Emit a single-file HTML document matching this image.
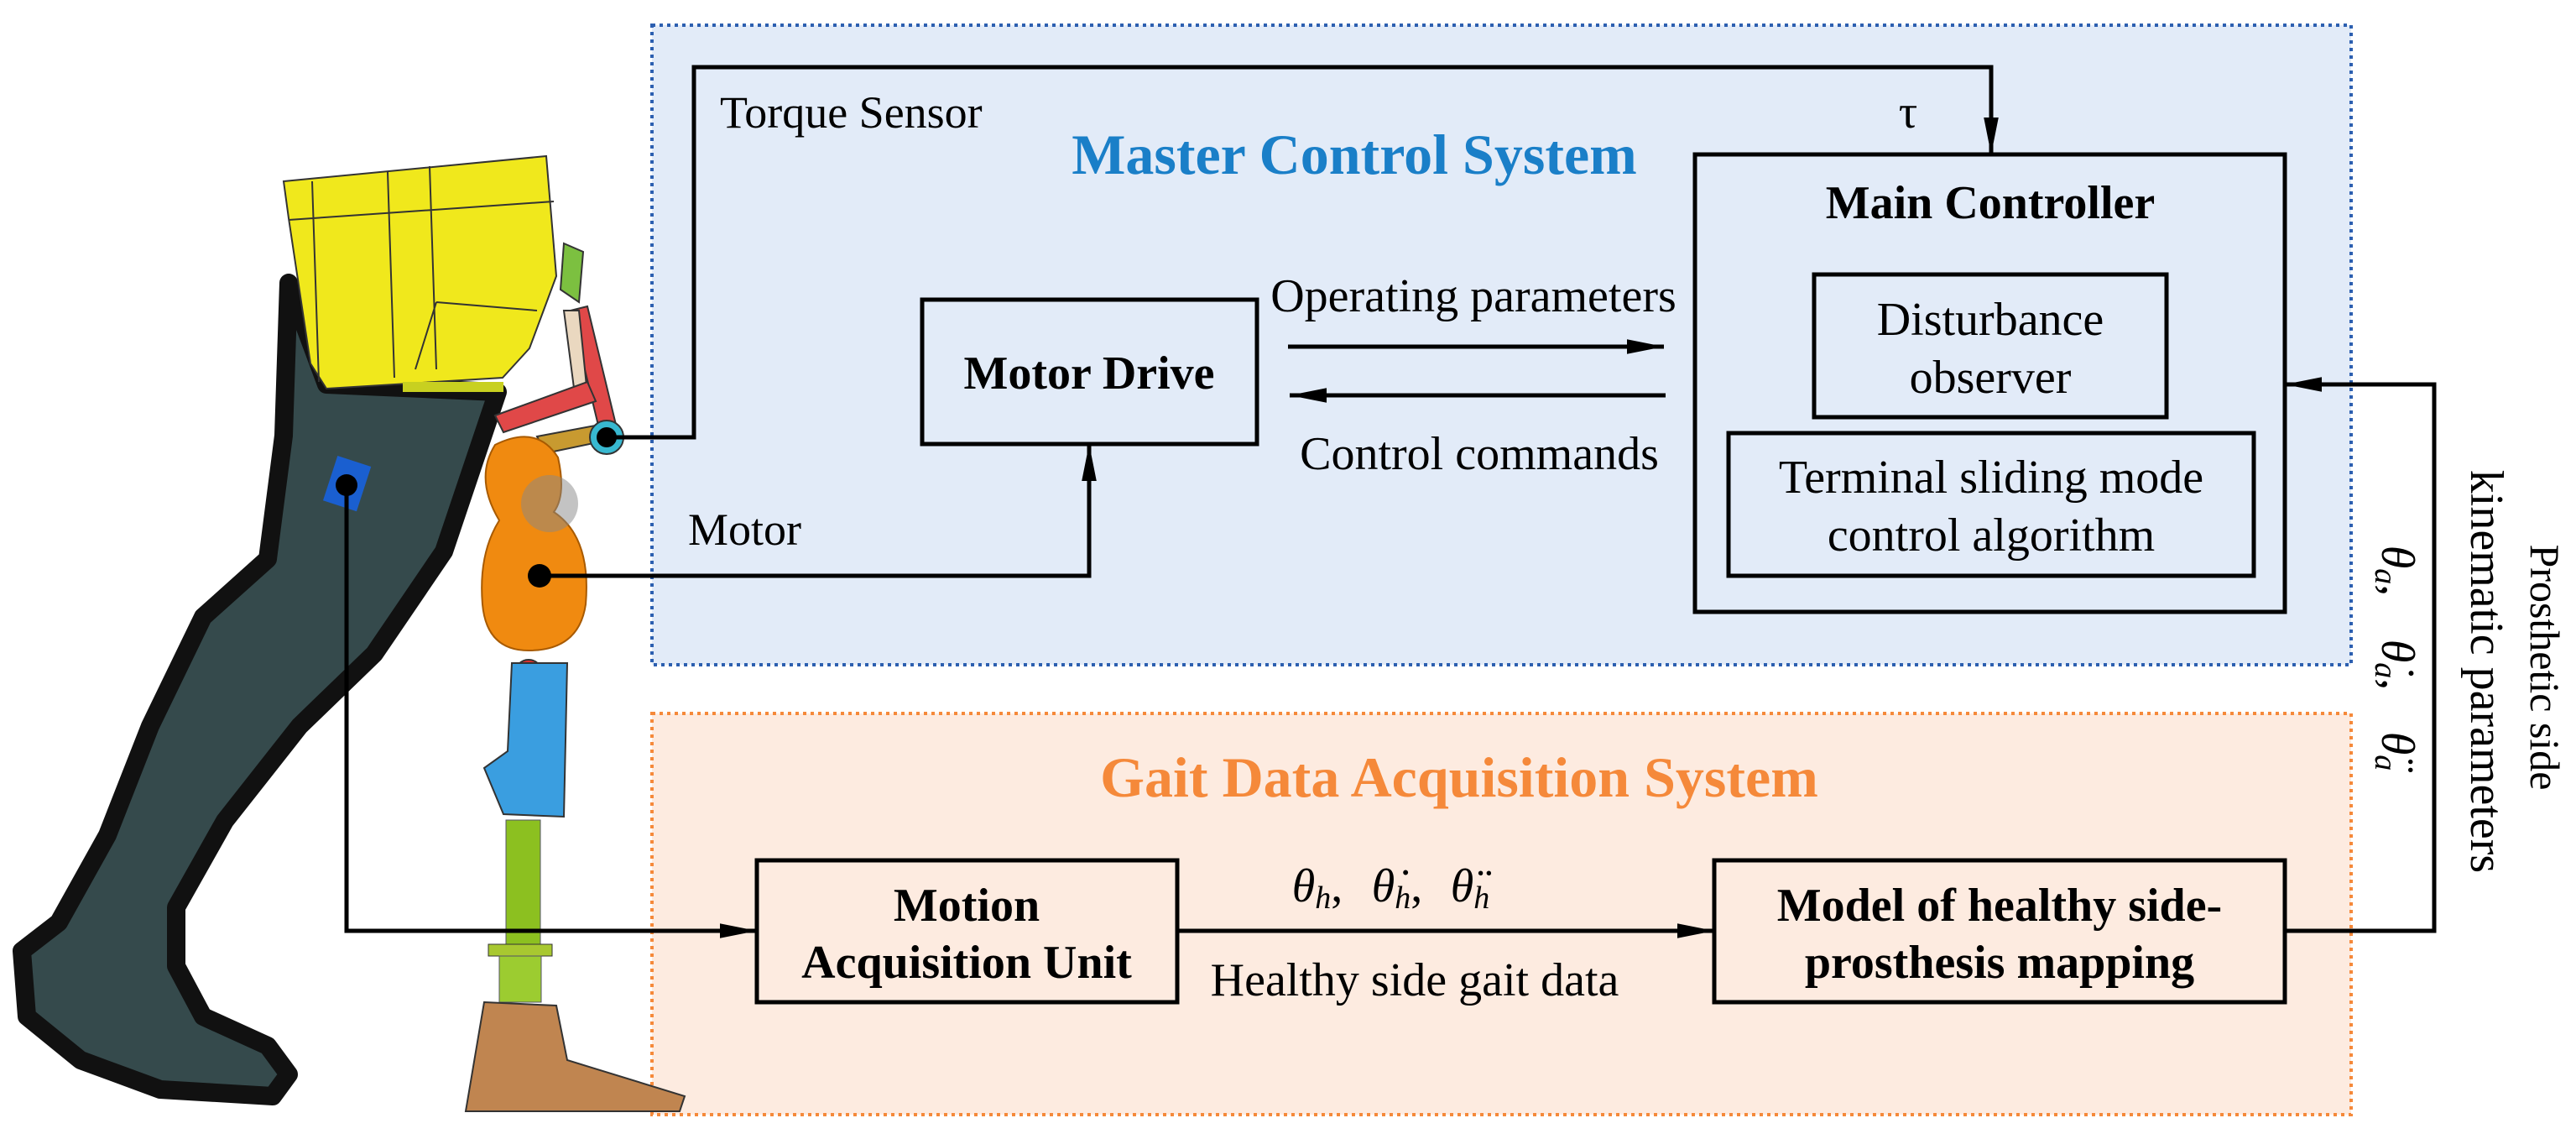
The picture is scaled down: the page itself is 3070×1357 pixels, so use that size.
<!DOCTYPE html>
<html><head><meta charset="utf-8"><style>
html,body{margin:0;padding:0;background:#fff}
svg{display:block}
text{font-family:"Liberation Serif",serif}
</style></head><body>
<svg width="3070" height="1357" viewBox="0 0 3070 1357" xmlns="http://www.w3.org/2000/svg">
<defs>
<marker id="a2" viewBox="0 0 40 20" refX="40" refY="10" markerWidth="44" markerHeight="22" markerUnits="userSpaceOnUse" orient="auto">
<path d="M0,2 L40,10 L0,18 z" fill="#000"/></marker>
</defs>
<rect x="777" y="30" width="2025" height="762" fill="#e2ebf8" stroke="#2c5fb0" stroke-width="4" stroke-dasharray="4,5"/>
<rect x="777" y="850" width="2025" height="478" fill="#fdebe0" stroke="#f5893a" stroke-width="4" stroke-dasharray="4,5"/>

<!-- leg -->
<path d="M344,337 L389,458 L593,467 L529,657 L446,779 L357,865 L268,978 L210,1081 L210,1151 L242,1211 L319,1246 L344,1280 L325,1306 L191,1298 L96,1263 L32,1211 L26,1133 L70,1099 L128,995 L179,865 L242,735 L319,666 L338,519 Z" fill="#354a4c" stroke="#111" stroke-width="22" stroke-linejoin="round"/>
<path d="M338,216 L651,186 L663,329 L631,415 L599,450 L389,463 L370,433 L344,260 Z" fill="#f0e81c" stroke="#333" stroke-width="2"/>
<path d="M344,262 L660,240 M372,216 L380,455 M462,205 L470,450 M512,198 L520,440 M520,360 L640,370 M520,360 L495,440" stroke="#333" stroke-width="2" fill="none"/>
<rect x="480" y="455" width="120" height="12" fill="#c8d020"/>
<path d="M672,290 L695,300 L690,360 L668,345 Z" fill="#7cc040" stroke="#333" stroke-width="2"/>
<path d="M680,370 L700,365 L735,510 L715,515 Z" fill="#e04848" stroke="#333" stroke-width="2"/>
<path d="M672,370 L690,370 L700,470 L685,470 Z" fill="#ead8c0" stroke="#333" stroke-width="2"/>
<path d="M590,495 L700,455 L710,478 L600,515 Z" fill="#e04848" stroke="#333" stroke-width="2"/>
<path d="M640,520 L720,505 L722,525 L650,540 Z" fill="#c89a30" stroke="#333" stroke-width="2"/>
<circle cx="723" cy="521" r="20" fill="#38b8d0" stroke="#333" stroke-width="2"/>
<path d="M590,530 Q640,505 665,545 Q675,590 660,610 Q705,640 698,720 Q690,775 630,775 Q580,775 575,720 Q570,660 595,620 Q565,570 590,530 Z" fill="#f08a10" stroke="#a85a00" stroke-width="2"/>
<circle cx="655" cy="600" r="34" fill="#888" opacity=".5"/>
<circle cx="630" cy="802" r="16" fill="#e03030" stroke="#333" stroke-width="2"/>
<path d="M610,790 L676,790 L672,973 L600,970 L577,915 L605,895 Z" fill="#3a9ee0" stroke="#333" stroke-width="2"/>
<rect x="603" y="977" width="41" height="156" fill="#8cc020" stroke="#556" stroke-width="1"/>
<rect x="582" y="1125" width="76" height="14" fill="#a8c830" stroke="#333" stroke-width="1"/>
<rect x="595" y="1139" width="50" height="55" fill="#9ccc30" stroke="#556" stroke-width="1"/>
<path d="M577,1194 L663,1198 L676,1263 L816,1306 L810,1324 L555,1324 Z" fill="#c08550" stroke="#333" stroke-width="2"/>
<rect x="392" y="548" width="42" height="56" fill="#1a5fd0" transform="rotate(18 413 578)"/>

<!-- connectors -->
<circle cx="723" cy="521" r="12" fill="#000"/>
<polyline points="723,521 827,521 827,80 2373,80 2373,184" fill="none" stroke="#000" stroke-width="5" marker-end="url(#a2)"/>
<circle cx="643" cy="686" r="14" fill="#000"/>
<polyline points="643,686 1298,686 1298,529" fill="none" stroke="#000" stroke-width="5" marker-end="url(#a2)"/>
<circle cx="413" cy="578" r="13" fill="#000"/>
<polyline points="413,578 413,1109 902,1109" fill="none" stroke="#000" stroke-width="5" marker-end="url(#a2)"/>
<line x1="1535" y1="413" x2="1983" y2="413" stroke="#000" stroke-width="5" marker-end="url(#a2)"/>
<line x1="1985" y1="471" x2="1537" y2="471" stroke="#000" stroke-width="5" marker-end="url(#a2)"/>
<line x1="1403" y1="1109" x2="2043" y2="1109" stroke="#000" stroke-width="5" marker-end="url(#a2)"/>
<polyline points="2723,1109 2901,1109 2901,458 2723,458" fill="none" stroke="#000" stroke-width="5" marker-end="url(#a2)"/>

<rect x="2020" y="184" width="703" height="545" fill="none" stroke="#000" stroke-width="5"/>
<rect x="2162" y="327" width="420" height="170" fill="none" stroke="#000" stroke-width="5"/>
<rect x="2060" y="516" width="626" height="170" fill="none" stroke="#000" stroke-width="5"/>
<rect x="1099" y="357" width="399" height="172" fill="none" stroke="#000" stroke-width="5"/>
<rect x="902" y="1025" width="501" height="169" fill="none" stroke="#000" stroke-width="5"/>
<rect x="2043" y="1025" width="680" height="169" fill="none" stroke="#000" stroke-width="5"/>

<g font-size="56" text-anchor="middle" dominant-baseline="central">
<text x="1614" y="184" font-size="68" font-weight="bold" fill="#1a7fc8">Master Control System</text>
<text x="1739" y="926" font-size="68" font-weight="bold" fill="#f5893a">Gait Data Acquisition System</text>
<text x="2372" y="242" font-weight="bold">Main Controller</text>
<text x="2372" y="381">Disturbance</text>
<text x="2372" y="450">observer</text>
<text x="2373" y="569">Terminal sliding mode</text>
<text x="2373" y="638">control algorithm</text>
<text x="1298" y="445" font-weight="bold">Motor Drive</text>
<text x="1756" y="353">Operating parameters</text>
<text x="1763" y="541">Control commands</text>
<text x="1152" y="1079" font-weight="bold">Motion</text>
<text x="1152" y="1147" font-weight="bold">Acquisition Unit</text>
<text x="2383" y="1079" font-weight="bold">Model of healthy side-</text>
<text x="2383" y="1147" font-weight="bold">prosthesis mapping</text>
<text x="1686" y="1168">Healthy side gait data</text>
<g font-style="italic">
<text x="1570" y="1056">θ<tspan font-size="38" dy="14">h</tspan><tspan dy="-14" font-style="normal">,</tspan></text>
<text x="1665" y="1056">θ̇<tspan font-size="38" dy="14">h</tspan><tspan dy="-14" font-style="normal">,</tspan></text>
<text x="1752" y="1056">θ̈<tspan font-size="38" dy="14">h</tspan></text>
</g>
<text x="2274" y="134">τ</text>
<text x="3033" y="795" font-size="50" transform="rotate(90 3033 795)">Prosthetic side</text>
<text x="2963" y="800" transform="rotate(90 2963 800)">kinematic parameters</text>
<g font-style="italic">
<text x="2857" y="680" transform="rotate(90 2857 680)">θ<tspan font-size="38" dy="14">a</tspan><tspan dy="-14" font-style="normal">,</tspan></text>
<text x="2857" y="792" transform="rotate(90 2857 792)">θ̇<tspan font-size="38" dy="14">a</tspan><tspan dy="-14" font-style="normal">,</tspan></text>
<text x="2857" y="895" transform="rotate(90 2857 895)">θ̈<tspan font-size="38" dy="14">a</tspan></text>
</g>
</g>
<g font-size="54" dominant-baseline="central">
<text x="858" y="134">Torque Sensor</text>
<text x="820" y="631">Motor</text>
</g>
</svg>
</body></html>
